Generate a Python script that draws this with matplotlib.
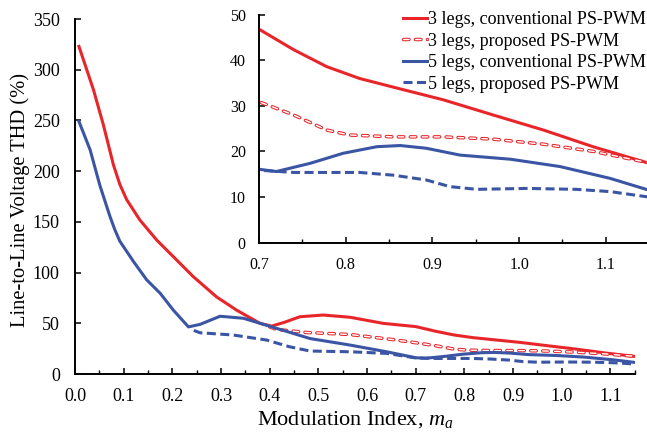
import matplotlib
matplotlib.use("Agg")
import matplotlib.pyplot as plt
import matplotlib.patheffects as pe
from matplotlib.ticker import MultipleLocator

plt.rcParams['font.family'] = ['Liberation Serif', 'DejaVu Serif']
plt.rcParams['mathtext.fontset'] = 'custom'
plt.rcParams['mathtext.it'] = 'Liberation Serif:italic'
plt.rcParams['mathtext.rm'] = 'Liberation Serif'
plt.rcParams['lines.scale_dashes'] = False

RED = '#e8262a'
BLUE = '#3b55a5'

# THD curves (%), against modulation index
m_3c = [0.008, 0.038, 0.058, 0.079, 0.092, 0.106, 0.133, 0.168, 0.202, 0.243, 0.291, 0.332, 0.38,
        0.404, 0.43, 0.462, 0.51, 0.565, 0.633, 0.70, 0.74, 0.778, 0.816, 0.859, 0.913, 0.97,
        1.028, 1.086, 1.15]
thd_3c = [323, 280, 246, 206, 187, 172, 152, 132, 115.7, 96, 76, 63, 50,
          47.3, 51, 56.5, 58.2, 56, 50, 46.8, 42.3, 38.6, 36, 33.9, 31.3, 28,
          24.7, 21, 17.4]

m_3p = [0.40, 0.414, 0.476, 0.565, 0.653, 0.70, 0.74, 0.778, 0.805, 0.855, 0.913, 0.97, 1.028,
        1.086, 1.15]
thd_3p = [46.5, 44, 41, 39, 34, 30.9, 28, 24.7, 23.6, 23.2, 23.2, 22.7, 21.6,
          20, 17.5]

m_5c = [0.008, 0.031, 0.051, 0.072, 0.082, 0.092, 0.12, 0.147, 0.175, 0.202, 0.233, 0.257, 0.298,
        0.346, 0.394, 0.483, 0.565, 0.64, 0.70, 0.72, 0.759, 0.797, 0.836, 0.863, 0.893, 0.932,
        0.99, 1.047, 1.105, 1.15]
thd_5c = [249, 221, 186, 155, 142, 131, 111, 93, 79.6, 63, 46.5, 49, 57,
          55, 48, 35, 28.6, 22, 16.1, 15.6, 17.4, 19.6, 21.05, 21.3, 20.7, 19.2,
          18.3, 16.7, 14.1, 11.5]

m_5p = [0.244, 0.257, 0.325, 0.394, 0.44, 0.483, 0.565, 0.64, 0.70, 0.74, 0.816, 0.855, 0.893,
        0.92, 0.951, 1.009, 1.066, 1.105, 1.15]
thd_5p = [43, 40.7, 38.5, 33.5, 27, 22.7, 22, 20.4, 15.9, 15.4, 15.4, 14.8, 13.75,
          12.3, 11.7, 11.9, 11.7, 11.2, 10]

labels = ['3 legs, conventional PS-PWM', '3 legs, proposed PS-PWM',
          '5 legs, conventional PS-PWM', '5 legs, proposed PS-PWM']


def draw_curves(ax, lw=2.2):
    ax.plot(m_3c, thd_3c, color=RED, lw=lw, label=labels[0])
    # hollow dashes: thin white dashes over a wider red stroke with the same pattern
    ax.plot(m_3p, thd_3p, color='white', lw=1.0, dashes=(4.0, 4.6),
            dash_capstyle='round', label=labels[1],
            path_effects=[pe.Stroke(linewidth=2.5, foreground=RED), pe.Normal()])
    ax.plot(m_5c, thd_5c, color=BLUE, lw=lw, label=labels[2])
    ax.plot(m_5p, thd_5p, color=BLUE, lw=lw, dashes=(6.5, 3.2), label=labels[3])


def style_axes(ax):
    for side in ('top', 'right'):
        ax.spines[side].set_visible(False)
    for side in ('left', 'bottom'):
        ax.spines[side].set_linewidth(1.4)
    ax.tick_params(direction='in', length=4, width=1.1, which='major')
    ax.tick_params(direction='in', length=3, width=1.0, which='minor')


fig = plt.figure(figsize=(6.47, 4.37), dpi=100)

ax = fig.add_axes([0.116, 0.144, 0.865, 0.8125])
draw_curves(ax)
style_axes(ax)
ax.set_xlim(0, 1.15)
ax.set_ylim(0, 350)
ax.xaxis.set_minor_locator(MultipleLocator(0.05))
ax.yaxis.set_major_locator(MultipleLocator(50))
ax.set_xticks([i / 10 for i in range(12)])
ax.set_xticklabels([f'{i / 10:.1f}' for i in range(12)])
ax.tick_params(labelsize=13)
ax.tick_params(axis='x', pad=10)
ax.tick_params(axis='y', pad=11)
ax.set_xlabel('Modulation Index, $m_a$', fontsize=16)
ax.set_ylabel('Line-to-Line Voltage THD (%)', fontsize=14.8)
ax.xaxis.set_label_coords(0.5, -0.1)
ax.yaxis.set_label_coords(-0.08, 0.49)

# zoomed view of the upper modulation range
axi = fig.add_axes([0.4003, 0.4446, 0.603, 0.522])
draw_curves(axi)
style_axes(axi)
axi.set_xlim(0.7, 1.15)
axi.set_ylim(0, 50)
axi.xaxis.set_minor_locator(MultipleLocator(0.05))
axi.yaxis.set_major_locator(MultipleLocator(10))
axi.set_xticks([0.7, 0.8, 0.9, 1.0, 1.1])
axi.set_xticklabels(['0.7', '0.8', '0.9', '1.0', '1.1'])
axi.tick_params(labelsize=11.5)
axi.tick_params(axis='x', pad=10)
axi.tick_params(axis='y', pad=9.5)

leg = axi.legend(loc='upper left', bbox_to_anchor=(403 / 647, 1 - 11 / 437),
                 bbox_transform=fig.transFigure, frameon=False, fontsize=13,
                 handlelength=1.35, handletextpad=0.05, borderpad=0, borderaxespad=0,
                 labelspacing=0.25)

fig.savefig('out.png', dpi=100)
